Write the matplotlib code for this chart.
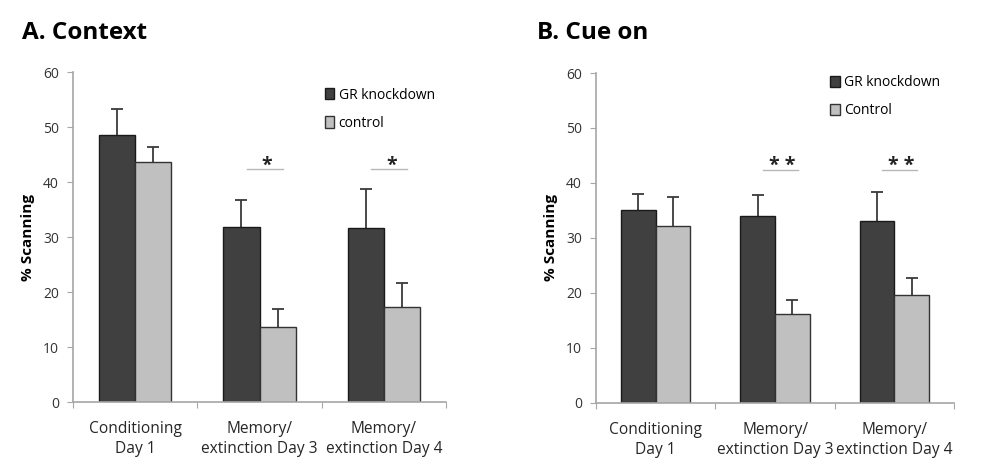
import numpy as np
import matplotlib.pyplot as plt
from matplotlib.patches import Patch

plt.rcParams['font.family'] = ['Open Sans', 'DejaVu Sans']

# data
categories = ['Conditioning\nDay 1', 'Memory/\nextinction Day 3', 'Memory/\nextinction Day 4']

ctx_gr = [48.6, 31.8, 31.7]
ctx_gr_err = [4.6, 5.0, 7.1]
ctx_ctrl = [43.6, 13.6, 17.3]
ctx_ctrl_err = [2.7, 3.3, 4.3]

cue_gr = [35.0, 34.0, 33.1]
cue_gr_err = [3.0, 3.8, 5.2]
cue_ctrl = [32.1, 16.1, 19.6]
cue_ctrl_err = [5.3, 2.6, 3.2]

ctx_stars = ['', '*', '*']
cue_stars = ['', '* *', '* *']

dark = '#404040'
light = '#c0c0c0'
spine_col = '#a6a6a6'

fig = plt.figure(figsize=(9.92, 4.68), dpi=100)
axA = fig.add_axes([0.0736, 0.141, 0.376, 0.705])
axB = fig.add_axes([0.6008, 0.139, 0.361, 0.705])


def panel(ax, gr, gr_err, ctrl, ctrl_err, stars, labels, legend_pos):
    x = np.arange(len(categories)) + 0.5
    w = 0.29
    ax.bar(x - w / 2, gr, w, color=dark, edgecolor='#1a1a1a', linewidth=1.0, zorder=2)
    ax.bar(x + w / 2, ctrl, w, color=light, edgecolor='#333333', linewidth=1.0, zorder=2)
    for xs, vals, errs in [(x - w / 2, gr, gr_err), (x + w / 2, ctrl, ctrl_err)]:
        eb = ax.errorbar(xs, vals, yerr=[np.zeros(3), errs], fmt='none',
                         ecolor='#3a3a3a', elinewidth=1.3, capsize=4, capthick=1.3, zorder=1)
        eb[1][0].set_visible(False)  # no cap at the bar top
    for xi, s in zip(x, stars):
        if s:
            ax.plot([xi - 0.10, xi + 0.19], [42.4, 42.4], color='#b8b8b8', lw=1.0)
            ax.text(xi + 0.06, 42.1, s, ha='center', va='baseline', fontsize=14,
                    fontweight='bold', color='#222222')
    ax.set_xlim(0, 3)
    ax.set_ylim(0, 60)
    ax.set_yticks(range(0, 61, 10))
    ax.set_xticks([0, 1, 2, 3])
    ax.set_xticklabels([])
    for xi, c in zip(x, categories):
        ax.text(xi, -3.4, c, ha='center', va='top', fontsize=11.2,
                color='#262626', linespacing=1.35)
    ax.tick_params(axis='y', direction='out', length=4, color=spine_col,
                   labelsize=10, labelcolor='#333333', pad=6)
    ax.tick_params(axis='x', direction='out', length=4, color=spine_col)
    for s in ['top', 'right']:
        ax.spines[s].set_visible(False)
    for s in ['left', 'bottom']:
        ax.spines[s].set_color(spine_col)
        ax.spines[s].set_linewidth(1.2)
    ax.set_ylabel('% Scanning', fontsize=11, fontweight='bold', labelpad=6)
    handles = [Patch(facecolor=dark, edgecolor='#1a1a1a'),
               Patch(facecolor=light, edgecolor='#333333')]
    ax.legend(handles, labels, loc='upper left', bbox_to_anchor=legend_pos,
              frameon=False, fontsize=10, handlelength=0.7, handleheight=0.9,
              handletextpad=0.3, labelspacing=0.95, borderaxespad=0)


panel(axA, ctx_gr, ctx_gr_err, ctx_ctrl, ctx_ctrl_err, ctx_stars,
      ['GR knockdown', 'control'], (0.66, 0.97))
panel(axB, cue_gr, cue_gr_err, cue_ctrl, cue_ctrl_err, cue_stars,
      ['GR knockdown', 'Control'], (0.638, 1.01))

fig.text(0.022, 0.93, 'A. Context', fontsize=17.5, fontweight='bold', va='center')
fig.text(0.541, 0.93, 'B. Cue on', fontsize=17.5, fontweight='bold', va='center')

fig.savefig('out.png', dpi=100)
